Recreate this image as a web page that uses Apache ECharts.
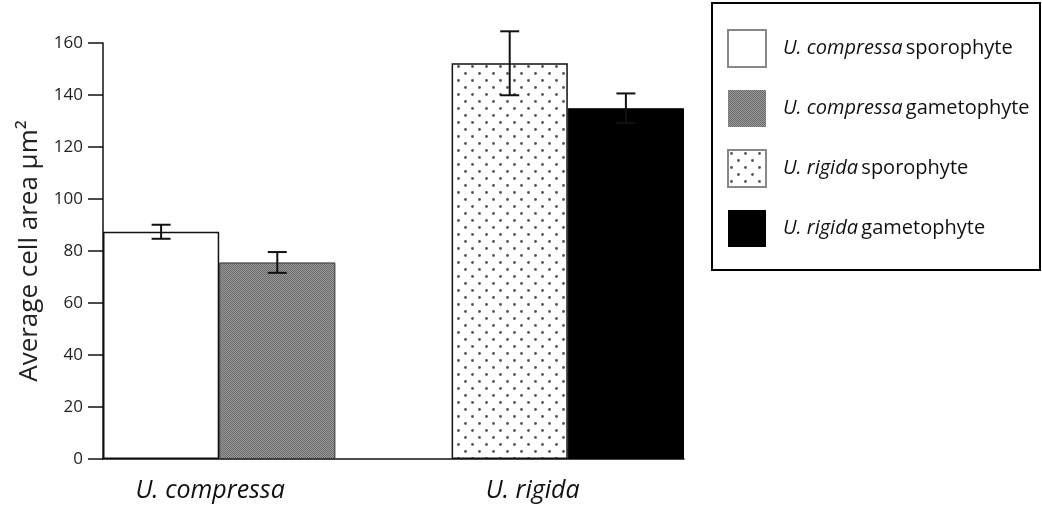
<!DOCTYPE html>
<html>
<head>
<meta charset="utf-8">
<script src="https://cdn.jsdelivr.net/npm/echarts@6/dist/echarts.min.js"></script>
<style>
  html, body { margin: 0; padding: 0; background: #fff; }
  #chart { width: 1042px; height: 523px; }
</style>
</head>
<body>
<div id="chart"></div>
<script>
// groups on the x axis and the two life stages inside each group
const groups = ['U. compressa', 'U. rigida'];
const stages = ['sporophyte', 'gametophyte'];

// mean cell area (µm²) and error half-width, one per series
const seriesNames = [
  'U. compressa sporophyte',
  'U. compressa gametophyte',
  'U. rigida sporophyte',
  'U. rigida gametophyte'
];
const means = [87.4, 75.6, 152.2, 134.9];
const errors = [2.7, 4.0, 12.3, 5.7];

// fill patterns drawn on a small canvas
function checkerTile() {
  const c = document.createElement('canvas');
  c.width = 2; c.height = 2;
  const g = c.getContext('2d');
  g.fillStyle = '#9a9a9a'; g.fillRect(0, 0, 2, 2);
  g.fillStyle = '#6a6a6a'; g.fillRect(0, 0, 1, 1); g.fillRect(1, 1, 1, 1);
  return c;
}
function dotTile() {
  const c = document.createElement('canvas');
  c.width = 14; c.height = 14;
  const g = c.getContext('2d');
  g.fillStyle = '#fff'; g.fillRect(0, 0, 14, 14);
  g.fillStyle = '#555';
  g.beginPath(); g.arc(3.5, 3.5, 1.4, 0, Math.PI * 2); g.fill();
  g.beginPath(); g.arc(10.5, 10.5, 1.4, 0, Math.PI * 2); g.fill();
  return c;
}

const fills = [
  { color: '#fff', borderColor: '#111', borderWidth: 1.5 },
  { color: { image: checkerTile(), repeat: 'repeat' }, borderColor: '#333', borderWidth: 1 },
  { color: { image: dotTile(), repeat: 'repeat' }, borderColor: '#111', borderWidth: 1.5 },
  { color: '#000', borderColor: '#000', borderWidth: 1 }
];
const legendBorder = ['#888', null, '#888', null];

// x slots: each group's stages, with an empty spacer between groups
const slots = [];
groups.forEach((grp, gi) => {
  if (gi > 0) slots.push('');
  stages.forEach(st => slots.push(grp + ' ' + st));
});
const slotIndex = seriesNames.map(n => slots.indexOf(n));

// label shifts so group names sit where the original put them
const labelAt = { 0: groups[0], 3: groups[1] };
const labelShift = { 0: 98, 3: 46 };

const chart = echarts.init(document.getElementById('chart'));

const barSeries = seriesNames.map((name, i) => ({
  name: name,
  type: 'bar',
  barWidth: '100%',
  barGap: '-100%',
  data: slots.map((s, k) => (k === slotIndex[i] ? means[i] : '-')),
  itemStyle: fills[i],
  emphasis: { disabled: true },
  z: 2
}));

const errData = seriesNames.map((n, i) => [slotIndex[i], means[i] - errors[i], means[i] + errors[i]]);

const catStyle = { fontFamily: 'Open Sans', fontStyle: 'italic', fontSize: 25, color: '#111' };

chart.setOption({
  animation: false,
  grid: { left: 103, right: 358, top: 43, bottom: 64 },
  xAxis: {
    type: 'category',
    data: slots,
    axisLine: { lineStyle: { color: '#111', width: 1.5 } },
    axisTick: { show: false },
    axisLabel: {
      interval: 0,
      margin: 19,
      formatter: (v, idx) => labelAt[idx] ? '{s' + idx + '|' + labelAt[idx] + '}' : '',
      rich: {
        s0: Object.assign({ padding: [0, 0, 0, labelShift[0]] }, catStyle),
        s3: Object.assign({ padding: [0, 0, 0, labelShift[3]] }, catStyle)
      }
    }
  },
  yAxis: {
    type: 'value',
    min: 0, max: 160, interval: 20,
    name: 'Average cell area µm²',
    nameLocation: 'middle',
    nameGap: 60,
    nameTextStyle: { fontFamily: 'Open Sans', fontSize: 26, color: '#222' },
    axisLine: { show: true, lineStyle: { color: '#111', width: 1.5 } },
    axisTick: { show: true, length: 15, lineStyle: { color: '#111', width: 1.5 } },
    axisLabel: { margin: 20, fontFamily: 'Open Sans', fontSize: 17, color: '#222' },
    splitLine: { show: false }
  },
  legend: {
    orient: 'vertical',
    left: 727, top: 29,
    padding: 0,
    itemWidth: 38, itemHeight: 37, itemGap: 22,
    icon: 'rect',
    data: seriesNames.map((n, i) => ({
      name: n,
      itemStyle: legendBorder[i] ? { borderColor: legendBorder[i], borderWidth: 2 } : { borderWidth: 0 }
    })),
    formatter: n => {
      const k = n.lastIndexOf(' ');
      return '{i|' + n.slice(0, k) + '} {r|' + n.slice(k + 1) + '}';
    },
    textStyle: {
      padding: [0, 0, 0, 12],
      rich: {
        i: { fontFamily: 'Open Sans', fontStyle: 'italic', fontSize: 20, color: '#111' },
        r: { fontFamily: 'Open Sans', fontSize: 20, color: '#111' }
      }
    },
    selectedMode: false
  },
  graphic: [{
    type: 'rect',
    shape: { x: 712, y: 3, width: 328, height: 267 },
    style: { fill: 'none', stroke: '#000', lineWidth: 2 },
    silent: true
  }],
  series: barSeries.concat([{
    type: 'custom',
    name: 'error',
    data: errData,
    z: 5,
    renderItem: (params, api) => {
      const lo = api.coord([api.value(0), api.value(1)]);
      const hi = api.coord([api.value(0), api.value(2)]);
      const hw = 9.5;
      const st = { stroke: '#111', lineWidth: 2 };
      return {
        type: 'group',
        children: [
          { type: 'line', shape: { x1: hi[0], y1: hi[1], x2: lo[0], y2: lo[1] }, style: st },
          { type: 'line', shape: { x1: hi[0] - hw, y1: hi[1], x2: hi[0] + hw, y2: hi[1] }, style: st },
          { type: 'line', shape: { x1: lo[0] - hw, y1: lo[1], x2: lo[0] + hw, y2: lo[1] }, style: st }
        ]
      };
    }
  }])
});
</script>
</body>
</html>
